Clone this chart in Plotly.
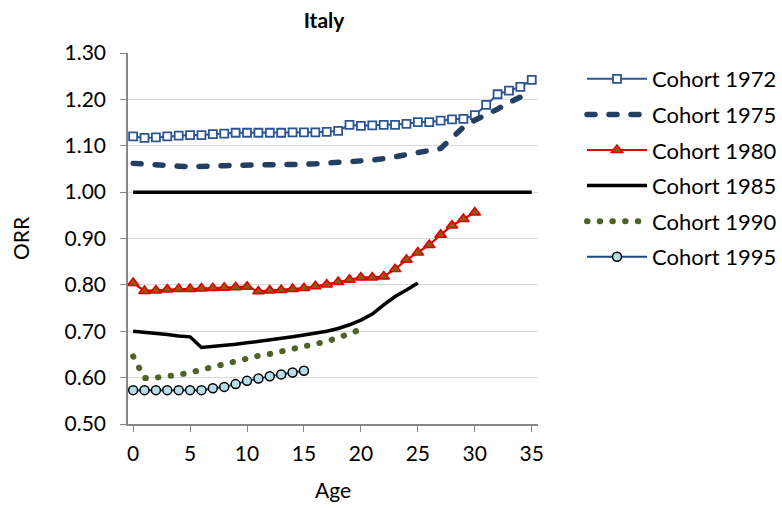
import plotly.graph_objects as go

ages_1972 = list(range(0, 36))
orr_1972 = [1.120, 1.117, 1.118, 1.120, 1.122, 1.123, 1.123, 1.125, 1.126, 1.128,
            1.128, 1.128, 1.128, 1.128, 1.129, 1.129, 1.129, 1.130, 1.132, 1.145,
            1.143, 1.144, 1.145, 1.145, 1.147, 1.151, 1.151, 1.154, 1.157, 1.158,
            1.166, 1.188, 1.211, 1.219, 1.227, 1.242]

ages_1975 = list(range(0, 36))
orr_1975 = [1.062, 1.060, 1.058, 1.057, 1.056, 1.055, 1.055, 1.056, 1.057, 1.058,
            1.058, 1.059, 1.059, 1.059, 1.060, 1.060, 1.061, 1.062, 1.063, 1.065,
            1.067, 1.069, 1.072, 1.076, 1.080, 1.084, 1.089, 1.094, 1.117, 1.140,
            1.155, 1.166, 1.179, 1.193, 1.205, 1.217]

ages_1980 = list(range(0, 31))
orr_1980 = [0.804, 0.787, 0.788, 0.790, 0.791, 0.791, 0.792, 0.793, 0.794, 0.795,
            0.796, 0.786, 0.788, 0.789, 0.791, 0.793, 0.797, 0.801, 0.806, 0.811,
            0.816, 0.816, 0.818, 0.834, 0.854, 0.870, 0.886, 0.908, 0.928, 0.942,
            0.956]

ages_1985 = list(range(0, 26))
orr_1985 = [0.700, 0.698, 0.695, 0.693, 0.690, 0.688, 0.665, 0.667, 0.670, 0.672,
            0.675, 0.678, 0.681, 0.684, 0.688, 0.692, 0.696, 0.700, 0.706, 0.714,
            0.724, 0.737, 0.757, 0.775, 0.789, 0.804]

ages_1990 = list(range(0, 21))
orr_1990 = [0.646, 0.599, 0.600, 0.602, 0.606, 0.611, 0.617, 0.623, 0.630, 0.637,
            0.642, 0.647, 0.651, 0.656, 0.661, 0.667, 0.672, 0.678, 0.686, 0.694,
            0.704]

ages_1995 = list(range(0, 16))
orr_1995 = [0.573, 0.573, 0.573, 0.573, 0.573, 0.573, 0.573, 0.577, 0.580, 0.586,
            0.593, 0.598, 0.603, 0.607, 0.611, 0.615]

ref_age = [0, 35]
ref_orr = [1.0, 1.0]

x_ticks = [0, 5, 10, 15, 20, 25, 30, 35]
y_ticks = [0.5, 0.6, 0.7, 0.8, 0.9, 1.0, 1.1, 1.2, 1.3]

FONT = "Lato, 'Open Sans', sans-serif"
W, H = 782, 508
L, R, T, B = 128, 244, 53, 84

fig = go.Figure()

fig.add_trace(go.Scatter(
    x=ref_age, y=ref_orr, mode="lines", showlegend=False, hoverinfo="skip",
    line=dict(color="black", width=3.5)))

fig.add_trace(go.Scatter(
    x=ages_1972, y=orr_1972, mode="lines+markers", name="Cohort 1972",
    legendgroup="a",
    line=dict(color="#2B5592", width=2),
    marker=dict(symbol="square", size=8, color="white",
                line=dict(color="#2B5592", width=1.8))))

fig.add_trace(go.Scatter(
    x=ages_1975, y=orr_1975, mode="lines", name="Cohort 1975",
    legendgroup="b",
    line=dict(color="#233F62", width=5.5, dash="8px,14px")))

fig.add_trace(go.Scatter(
    x=ages_1980, y=orr_1980, mode="lines+markers", name="Cohort 1980",
    legendgroup="c",
    line=dict(color="#E00000", width=2.2),
    marker=dict(symbol="triangle-up", size=10, color="#8F5A0B",
                line=dict(color="#E00000", width=1.5))))

fig.add_trace(go.Scatter(
    x=ages_1985, y=orr_1985, mode="lines", name="Cohort 1985",
    legendgroup="d",
    line=dict(color="black", width=3.5)))

fig.add_trace(go.Scatter(
    x=ages_1990, y=orr_1990, mode="lines", name="Cohort 1990",
    legendgroup="e",
    line=dict(color="#4F6228", width=6, dash="0.5px,12.2px")))

fig.add_trace(go.Scatter(
    x=ages_1995, y=orr_1995, mode="lines+markers", name="Cohort 1995",
    legendgroup="f",
    line=dict(color="#1F497D", width=2),
    marker=dict(symbol="circle", size=9, color="#B7DEE8",
                line=dict(color="black", width=1.5))))

plot_h = H - T - B
plot_w = W - L - R

fig.update_layout(
    width=W, height=H,
    margin=dict(l=L, r=R, t=T, b=B, autoexpand=False),
    paper_bgcolor="white", plot_bgcolor="white",
    font=dict(family=FONT, size=21, color="black"),
    title=dict(text="<b>Italy</b>", x=324 / W, xanchor="center",
               y=1 - 21 / H, yanchor="middle",
               font=dict(family=FONT, size=21, color="black")),
    legend=dict(x=(582 - L) / plot_w, xanchor="left",
                y=1 - 5 / plot_h, yanchor="top",
                font=dict(family=FONT, size=22, color="black"),
                itemwidth=60, tracegroupgap=4, bgcolor="rgba(0,0,0,0)"),
    showlegend=True,
)

fig.update_xaxes(
    range=[-0.45, 35.55], tickvals=x_ticks, ticktext=[str(v) for v in x_ticks],
    showgrid=False, zeroline=False, showline=True, linecolor="#868686",
    linewidth=1.5, ticks="outside", ticklen=6, tickcolor="#868686",
    ticklabelstandoff=4,
    tickfont=dict(family=FONT, size=21, color="black"),
    title=dict(text="Age", font=dict(family=FONT, size=21, color="black"), standoff=19))

fig.update_yaxes(
    range=[0.5, 1.3], tickvals=y_ticks, ticktext=[f"{v:.2f}" for v in y_ticks],
    showgrid=True, gridcolor="#D9D9D9", gridwidth=1.2, zeroline=False,
    showline=True, linecolor="#868686", linewidth=1.5, ticks="outside",
    ticklen=6, tickcolor="#868686", ticklabelstandoff=10,
    tickfont=dict(family=FONT, size=21, color="black"),
    title=dict(text="ORR", font=dict(family=FONT, size=21, color="black"), standoff=29))

post = """
document.body.style.margin = '0';
var gd = document.getElementById('{plot_id}');
function fixCaps(){
  var tr = gd.querySelectorAll('.scatterlayer .trace');
  [2,5].forEach(function(i){ if(tr[i]){ tr[i].querySelectorAll('path.js-line').forEach(function(p){ p.style.strokeLinecap='round'; }); } });
  var lg = gd.querySelectorAll('.legend .traces');
  [1,4].forEach(function(i){ if(lg[i]){ lg[i].querySelectorAll('.legendlines path').forEach(function(p){ p.style.strokeLinecap='round'; }); } });
}
fixCaps();
gd.on('plotly_afterplot', fixCaps);
"""

fig.write_html("out.html", post_script=post, config={"displayModeBar": False})
